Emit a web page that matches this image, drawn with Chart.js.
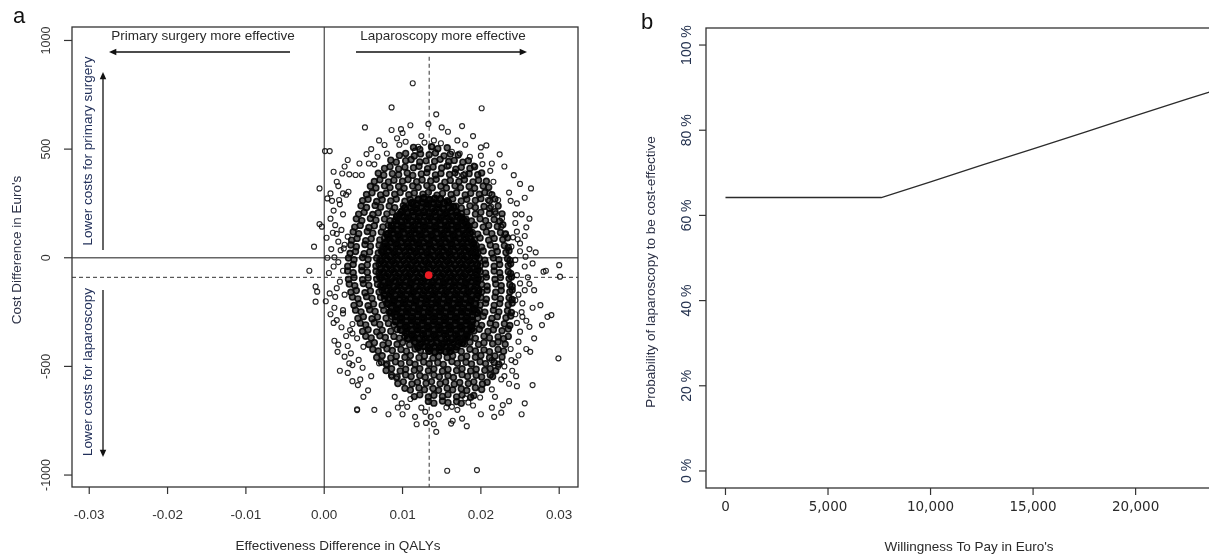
<!DOCTYPE html>
<html>
<head>
<meta charset="utf-8">
<script src="https://cdn.jsdelivr.net/npm/chart.js@4.4.1/dist/chart.umd.min.js"></script>
<style>
  html, body { margin: 0; padding: 0; background: #fff; overflow: hidden; }
  #wrap { position: relative; width: 1209px; height: 555px; overflow: hidden; }
  #planeCanvas { position: absolute; left: 0; top: 0; }
  #ceacCanvas { position: absolute; left: 604px; top: 0; }
</style>
</head>
<body>
<div id="wrap">
  <canvas id="planeCanvas" width="604" height="555"></canvas>
  <canvas id="ceacCanvas" width="640" height="555"></canvas>
</div>
<script>
// bootstrap draws: [effect difference x 1e-4 QALY, cost difference in euro]
const coreDraws = [
  [120,268],[127,274],[134,266],[141,272],[148,270],
  [112,252],[118,246],[125,255],[132,249],[139,253],[146,247],[153,251],[158,256],
  [103,228],[110,234],[117,226],[124,231],[131,235],[138,227],[145,232],[152,225],[159,230],[165,234],
  [99,212],[106,206],[113,214],[120,208],[127,211],[134,205],[141,213],[148,209],[155,206],[162,214],[169,210],
  [93,188],[100,194],[107,186],[114,192],[121,189],[128,195],[135,187],[142,191],[149,185],[156,193],[163,188],[170,194],[175,186],
  [91,172],[98,166],[105,174],[112,168],[119,171],[126,165],[133,173],[140,169],[147,175],[154,167],[161,172],[168,166],[175,174],[179,169],
  [86,148],[93,154],[100,146],[107,152],[114,149],[121,155],[128,147],[135,151],[142,145],[149,153],[156,148],[163,154],[170,146],[177,152],[182,149],
  [86,132],[93,126],[100,134],[107,128],[114,131],[121,125],[128,133],[135,129],[142,135],[149,127],[156,132],[163,126],[170,134],[177,128],[184,131],
  [81,108],[88,114],[95,106],[102,112],[109,109],[116,115],[123,107],[130,111],[137,105],[144,113],[151,108],[158,114],[165,106],[172,112],[179,109],[186,115],
  [82,92],[89,86],[96,94],[103,88],[110,91],[117,85],[124,93],[131,89],[138,95],[145,87],[152,92],[159,86],[166,94],[173,88],[180,91],[187,85],
  [78,68],[85,74],[92,66],[99,72],[106,69],[113,75],[120,67],[127,71],[134,65],[141,73],[148,68],[155,74],[162,66],[169,72],[176,69],[183,75],[190,67],
  [79,52],[86,46],[93,54],[100,48],[107,51],[114,45],[121,53],[128,49],[135,55],[142,47],[149,52],[156,46],[163,54],[170,48],[177,51],[184,45],[191,53],
  [75,28],[82,34],[89,26],[96,32],[103,29],[110,35],[117,27],[124,31],[131,25],[138,33],[145,28],[152,34],[159,26],[166,32],[173,29],[180,35],[187,27],[193,31],
  [77,12],[84,6],[91,14],[98,8],[105,11],[112,5],[119,13],[126,9],[133,15],[140,7],[147,12],[154,6],[161,14],[168,8],[175,11],[182,5],[189,13],[194,9],
  [73,-12],[80,-6],[87,-14],[94,-8],[101,-11],[108,-5],[115,-13],[122,-9],[129,-15],[136,-7],[143,-12],[150,-6],[157,-14],[164,-8],[171,-11],[178,-5],[185,-13],[192,-9],
  [76,-28],[83,-34],[90,-26],[97,-32],[104,-29],[111,-35],[118,-27],[125,-31],[132,-25],[139,-33],[146,-28],[153,-34],[160,-26],[167,-32],[174,-29],[181,-35],[188,-27],[195,-31],
  [72,-52],[79,-46],[86,-54],[93,-48],[100,-51],[107,-45],[114,-53],[121,-49],[128,-55],[135,-47],[142,-52],[149,-46],[156,-54],[163,-48],[170,-51],[177,-45],[184,-53],[191,-49],[196,-55],
  [75,-68],[82,-74],[89,-66],[96,-72],[103,-69],[110,-75],[117,-67],[124,-71],[131,-65],[138,-73],[145,-68],[152,-74],[159,-66],[166,-72],[173,-69],[180,-75],[187,-67],[194,-71],
  [72,-92],[79,-86],[86,-94],[93,-88],[100,-91],[107,-85],[114,-93],[121,-89],[128,-95],[135,-87],[142,-92],[149,-86],[156,-94],[163,-88],[170,-91],[177,-85],[184,-93],[191,-89],[196,-95],
  [76,-108],[83,-114],[90,-106],[97,-112],[104,-109],[111,-115],[118,-107],[125,-111],[132,-105],[139,-113],[146,-108],[153,-114],[160,-106],[167,-112],[174,-109],[181,-115],[188,-107],[195,-111],
  [75,-132],[82,-126],[89,-134],[96,-128],[103,-131],[110,-125],[117,-133],[124,-129],[131,-135],[138,-127],[145,-132],[152,-126],[159,-134],[166,-128],[173,-131],[180,-125],[187,-133],[194,-129],
  [79,-148],[86,-154],[93,-146],[100,-152],[107,-149],[114,-155],[121,-147],[128,-151],[135,-145],[142,-153],[149,-148],[156,-154],[163,-146],[170,-152],[177,-149],[184,-155],[191,-147],[197,-151],
  [77,-172],[84,-166],[91,-174],[98,-168],[105,-171],[112,-165],[119,-173],[126,-169],[133,-175],[140,-167],[147,-172],[154,-166],[161,-174],[168,-168],[175,-171],[182,-165],[189,-173],[196,-169],
  [82,-188],[89,-194],[96,-186],[103,-192],[110,-189],[117,-195],[124,-187],[131,-191],[138,-185],[145,-193],[152,-188],[159,-194],[166,-186],[173,-192],[180,-189],[187,-195],[194,-187],
  [81,-212],[88,-206],[95,-214],[102,-208],[109,-211],[116,-205],[123,-213],[130,-209],[137,-215],[144,-207],[151,-212],[158,-206],[165,-214],[172,-208],[179,-211],[186,-205],[193,-213],
  [86,-228],[93,-234],[100,-226],[107,-232],[114,-229],[121,-235],[128,-227],[135,-231],[142,-225],[149,-233],[156,-228],[163,-234],[170,-226],[177,-232],[184,-229],[191,-235],
  [85,-252],[92,-246],[99,-254],[106,-248],[113,-251],[120,-245],[127,-253],[134,-249],[141,-255],[148,-247],[155,-252],[162,-246],[169,-254],[176,-248],[183,-251],[190,-245],[195,-253],
  [91,-268],[98,-274],[105,-266],[112,-272],[119,-269],[126,-275],[133,-267],[140,-271],[147,-265],[154,-273],[161,-268],[168,-274],[175,-266],[182,-272],[189,-269],
  [91,-292],[98,-286],[105,-294],[112,-288],[119,-291],[126,-285],[133,-293],[140,-289],[147,-295],[154,-287],[161,-292],[168,-286],[175,-294],[182,-288],[189,-291],
  [97,-308],[104,-314],[111,-306],[118,-312],[125,-309],[132,-315],[139,-307],[146,-311],[153,-305],[160,-313],[167,-308],[174,-314],[181,-306],[188,-312],
  [98,-332],[105,-326],[112,-334],[119,-328],[126,-331],[133,-325],[140,-333],[147,-329],[154,-335],[161,-327],[168,-332],[175,-326],[182,-334],[188,-328],
  [105,-348],[112,-354],[119,-346],[126,-352],[133,-349],[140,-355],[147,-347],[154,-351],[161,-345],[168,-353],[175,-348],[182,-354],
  [107,-372],[114,-366],[121,-374],[128,-368],[135,-371],[142,-365],[149,-373],[156,-369],[163,-375],[170,-367],[177,-372],[181,-366],
  [116,-388],[123,-394],[130,-386],[137,-392],[144,-389],[151,-395],[158,-387],[165,-391],[172,-385],[176,-393],
  [120,-412],[127,-406],[134,-414],[141,-408],[148,-411],[155,-405],[162,-413],[169,-409],
  [134,-428],[141,-434],[148,-426],[155,-432],[161,-429]
];
const ringDraws = [
  [114,508],[122,499],[137,511],[145,502],[157,506],
  [96,471],[104,480],[115,468],[123,478],[134,474],[142,482],[153,469],[161,477],[171,473],
  [85,449],[92,440],[104,447],[111,452],[122,441],[130,446],[141,444],[148,453],[159,443],[166,448],[177,440],[184,447],
  [77,411],[84,419],[95,409],[103,417],[114,414],[121,421],[132,410],[139,418],[150,413],[157,422],[168,408],[175,416],[186,411],[192,419],
  [69,389],[76,380],[87,387],[95,382],[106,390],[113,379],[124,386],[131,392],[142,381],[149,388],[160,383],[167,391],[178,380],[185,387],[196,382],[201,390],
  [64,351],[71,359],[82,349],[89,357],[100,352],[107,360],[118,350],[125,358],[136,353],[143,361],[154,348],[161,356],[172,351],[179,359],[190,349],[197,357],[207,352],
  [59,329],[66,321],[77,331],[84,323],[95,328],[102,320],[113,330],[120,324],[131,332],[138,322],[149,329],[156,321],[167,331],[174,323],[185,328],[192,320],[203,330],[210,324],
  [54,291],[61,299],[72,289],[79,297],[90,292],[97,300],[108,290],[115,298],[126,293],[133,301],[144,288],[151,296],[162,291],[169,299],[180,289],[187,297],[198,292],[205,300],[214,290],
  [49,263],[56,269],[67,259],[74,267],[85,262],[92,270],[103,260],[110,268],[157,263],[164,271],[175,261],[182,269],[193,264],[200,272],[211,262],[218,270],
  [47,239],[54,231],[65,241],[72,233],[83,238],[90,230],[101,240],[168,237],[175,229],[186,239],[193,231],[204,236],[211,228],[222,238],
  [44,201],[51,209],[62,199],[69,207],[80,202],[87,210],[96,200],[175,203],[182,211],[193,201],[200,209],[211,204],[218,212],[227,202],
  [41,179],[48,171],[59,181],[66,173],[77,178],[84,170],[181,177],[188,169],[199,179],[206,171],[217,176],[224,168],
  [39,141],[46,149],[57,139],[64,147],[75,142],[82,150],[185,143],[192,151],[203,141],[210,149],[221,144],[228,152],
  [37,119],[44,111],[55,121],[62,113],[73,118],[79,110],[189,117],[196,109],[207,119],[214,111],[225,116],[231,108],
  [35,81],[42,89],[53,79],[60,87],[71,82],[77,90],[192,83],[199,91],[210,81],[217,89],[228,84],[234,92],
  [34,59],[41,51],[52,61],[59,53],[70,58],[75,50],[194,57],[201,49],[212,59],[219,51],[230,56],[235,48],
  [33,21],[40,29],[51,19],[58,27],[69,22],[73,30],[196,23],[203,31],[214,21],[221,29],[232,24],[236,32],
  [31,-1],[38,-9],[49,1],[56,-7],[67,-2],[71,-10],[198,-3],[205,-11],[216,-1],[223,-9],[234,-4],[237,-12],
  [30,-39],[37,-31],[48,-41],[55,-33],[66,-38],[70,-30],[199,-37],[206,-29],[217,-39],[224,-31],[235,-36],[238,-28],
  [30,-61],[37,-69],[48,-59],[55,-67],[66,-62],[70,-70],[199,-63],[206,-71],[217,-61],[224,-69],[235,-64],[238,-72],
  [31,-99],[38,-91],[49,-101],[56,-93],[67,-98],[71,-90],[200,-97],[207,-89],[218,-99],[225,-91],[236,-96],[239,-88],
  [32,-121],[39,-129],[50,-119],[57,-127],[68,-122],[72,-130],[201,-123],[208,-131],[219,-121],[226,-129],[237,-124],[240,-132],
  [34,-159],[41,-151],[52,-161],[59,-153],[70,-158],[74,-150],[201,-157],[208,-149],[219,-159],[226,-151],[237,-156],[240,-148],
  [36,-181],[43,-189],[54,-179],[61,-187],[72,-182],[77,-190],[200,-183],[207,-191],[218,-181],[225,-189],[236,-184],[240,-192],
  [38,-219],[45,-211],[56,-221],[63,-213],[74,-218],[80,-210],[199,-217],[206,-209],[217,-219],[224,-211],[235,-216],[240,-208],
  [40,-241],[47,-249],[58,-239],[65,-247],[76,-242],[83,-250],[198,-243],[205,-251],[216,-241],[223,-249],[234,-244],[239,-252],
  [43,-279],[50,-271],[61,-281],[68,-273],[79,-278],[86,-270],[196,-277],[203,-269],[214,-279],[221,-271],[232,-276],[238,-268],
  [46,-301],[53,-309],[64,-299],[71,-307],[82,-302],[89,-310],[194,-303],[201,-311],[212,-301],[219,-309],[230,-304],[237,-312],
  [49,-339],[56,-331],[67,-341],[74,-333],[85,-338],[93,-330],[191,-337],[198,-329],[209,-339],[216,-331],[227,-336],[235,-328],
  [53,-361],[60,-369],[71,-359],[78,-367],[89,-362],[96,-370],[103,-360],[186,-363],[193,-371],[204,-361],[211,-369],[222,-364],[229,-372],[235,-362],
  [57,-399],[64,-391],[75,-401],[82,-393],[93,-398],[100,-390],[109,-400],[179,-397],[186,-389],[197,-399],[204,-391],[215,-396],[222,-388],[231,-398],
  [62,-421],[69,-429],[80,-419],[87,-427],[98,-422],[105,-430],[116,-420],[123,-428],[168,-423],[175,-431],[186,-421],[193,-429],[204,-424],[211,-432],[222,-422],[229,-430],
  [67,-459],[74,-451],[85,-461],[92,-453],[103,-458],[110,-450],[121,-460],[128,-452],[139,-462],[146,-454],[157,-459],[164,-451],[175,-461],[182,-453],[193,-458],[200,-450],[211,-460],[218,-452],[227,-457],
  [73,-481],[80,-489],[91,-479],[98,-487],[109,-482],[116,-490],[127,-480],[134,-488],[145,-483],[152,-491],[163,-478],[170,-486],[181,-481],[188,-489],[199,-479],[206,-487],[217,-482],[223,-490],
  [79,-519],[86,-511],[97,-521],[104,-513],[115,-518],[122,-510],[133,-520],[140,-512],[151,-522],[158,-514],[169,-519],[176,-511],[187,-521],[194,-513],[205,-518],[212,-510],[219,-520],
  [86,-541],[93,-549],[104,-539],[111,-547],[122,-542],[129,-550],[140,-540],[147,-548],[158,-543],[165,-551],[176,-538],[183,-546],[194,-541],[201,-549],[212,-539],[215,-547],
  [94,-579],[101,-571],[112,-581],[119,-573],[130,-578],[137,-570],[148,-580],[155,-572],[166,-582],[173,-574],[184,-579],[191,-571],[202,-581],[208,-573],
  [103,-601],[110,-609],[121,-599],[128,-607],[139,-602],[146,-610],[157,-600],[164,-608],[175,-603],[182,-611],[193,-598],[201,-606],
  [115,-639],[122,-631],[133,-641],[140,-633],[151,-638],[158,-630],[169,-640],[176,-632],[187,-642],[191,-634],
  [133,-661],[140,-669],[151,-659],[158,-667],[169,-662],[175,-670]
];
const tailDraws = [
  [113,803],[86,692],[201,688],[143,660],[133,616],[176,606],[86,588],[98,592],[93,550],[104,534],
  [77,519],[128,530],[138,511],[149,527],[200,508],[207,517],[1,491],[7,491],[54,477],[68,465],
  [116,493],[120,511],[163,488],[173,480],[186,465],[224,476],[214,434],[202,431],[191,424],[180,388],
  [170,381],[159,424],[12,396],[23,388],[32,384],[40,381],[48,381],[45,434],[57,434],[-6,319],
  [8,296],[16,350],[24,296],[31,304],[19,266],[12,217],[4,273],[216,350],[211,296],[209,266],
  [222,266],[213,235],[219,204],[227,181],[226,143],[232,112],[241,94],[247,85],[250,66],[239,51],
  [264,319],[270,25],[257,5],[266,-26],[283,-60],[300,-34],[301,-87],[-13,51],[-6,155],[-3,143],
  [-19,-60],[11,115],[18,74],[25,43],[4,0],[13,2],[21,35],[30,97],[33,20],
  [-11,-133],[-9,-156],[-11,-202],[7,-164],[13,-230],[16,-287],[13,-382],[17,-433],[30,-406],[24,-241],
  [24,-256],[33,-333],[36,-305],[36,-348],[42,-371],[50,-410],[32,-486],[36,-494],[49,-506],[36,-568],
  [43,-586],[42,-701],[42,-697],[70,-486],[79,-494],[86,-548],[92,-555],[94,-689],[99,-670],[106,-686],
  [116,-732],[118,-766],[129,-709],[136,-732],[140,-766],[143,-801],[156,-689],[163,-686],[164,-750],[162,-763],
  [182,-775],[180,-647],[184,-666],[157,-980],[195,-977],[199,-643],[214,-606],[217,-732],[226,-713],[228,-678],
  [230,-545],[245,-545],[246,-591],[256,-670],[252,-720],[266,-586],[299,-463],[290,-264],[285,-272],[276,-218],
  [278,-310],[263,-433],[268,-371],[253,-272],[253,-210],[244,-195],[239,-471],[222,-502],[227,-479],[214,-471],
  [248,-386],[262,-318],[268,-149],[256,-149],[250,-118],[280,-64],
  [20,246],[8,180],[14,150],[3,92],[22,128],[9,40],[18,-20],[6,-70],[20,-110],[2,-200],
  [14,-180],[22,-320],[8,-260],[26,-455],[20,-520],[50,-640],[64,-700],[82,-720],[60,-545],
  [246,250],[252,200],[244,160],[258,140],[250,30],[260,-90],[252,-250],[246,-300],[258,-420],[240,-520],
  [236,-580],[218,-640],[200,-720],[236,-660],
  [60,500],[70,540],[170,540],[190,560],[230,420],[30,450],[158,580],[110,610],[52,600],
  [26,420],[18,330],[28,290],[10,262],[24,200],[16,110],[26,60],[12,-40],[24,-60],[16,-140],
  [26,-170],[12,-300],[28,-360],[18,-400],[34,-440],[44,-470],[30,-530],[46,-560],[56,-610],
  [242,380],[250,340],[236,300],[256,276],[238,262],[244,200],[262,180],[246,120],[256,100],[262,40],
  [244,-10],[256,-40],[246,-80],[262,-120],[248,-170],[266,-230],[244,-260],[258,-290],[250,-340],[238,-420],
  [248,-450],[230,-500],[244,-480],[226,-560],[214,-690],
  [80,480],[96,520],[124,560],[140,540],[180,520],[100,574],[150,600],[64,430],[200,470],[212,400],
  [110,-650],[124,-690],[170,-700],[190,-680],[146,-720],[100,-720],[130,-760],[176,-740],[90,-640]
];
const meanDraw = [0.01334, -80];
const meanEffectLine = 0.0134;
const meanCostLine = -90;
const qalyTicks = [-0.03, -0.02, -0.01, 0, 0.01, 0.02, 0.03];
const qalyTickLabels = ["-0.03", "-0.02", "-0.01", "0.00", "0.01", "0.02", "0.03"];
const costTicks = [-1000, -500, 0, 500, 1000];

// acceptability curve
const wtpValues = [0, 2500, 5000, 7600, 10000, 12500, 15000, 17500, 20000, 22500, 23750];
const probCostEffective = [64.2, 64.2, 64.2, 64.2, 67.9, 71.8, 75.6, 79.5, 83.4, 87.3, 89.2];
const wtpTicks = [0, 5000, 10000, 15000, 20000];
const wtpTickLabels = ["0", "5,000", "10,000", "15,000", "20,000"];
const probTicks = [0, 20, 40, 60, 80, 100];

const SANS = '"Liberation Sans", Arial, sans-serif';

function vtext(ctx, s, x, y) {
  ctx.save();
  ctx.translate(x, y);
  ctx.rotate(-Math.PI / 2);
  ctx.textAlign = "center";
  ctx.textBaseline = "middle";
  ctx.fillText(s, 0, 0);
  ctx.restore();
}

function arrow(ctx, x0, y0, x1, y1) {
  const a = Math.atan2(y1 - y0, x1 - x0);
  const len = 8, sp = 0.42;
  ctx.beginPath();
  ctx.moveTo(x0, y0);
  ctx.lineTo(x1 - Math.cos(a) * 4, y1 - Math.sin(a) * 4);
  ctx.stroke();
  ctx.beginPath();
  ctx.moveTo(x1, y1);
  ctx.lineTo(x1 - len * Math.cos(a - sp), y1 - len * Math.sin(a - sp));
  ctx.lineTo(x1 - len * Math.cos(a + sp), y1 - len * Math.sin(a + sp));
  ctx.closePath();
  ctx.fill();
}

const planeLines = {
  id: "planeLines",
  beforeDatasetsDraw(chart) {
    const { ctx, chartArea: ca, scales: { x, y } } = chart;
    ctx.save();
    ctx.lineWidth = 1.4;
    ctx.strokeStyle = "#666";
    const y0 = y.getPixelForValue(0);
    ctx.beginPath(); ctx.moveTo(ca.left, y0); ctx.lineTo(ca.right, y0); ctx.stroke();
    ctx.lineWidth = 1;
    ctx.strokeStyle = "#222";
    const x0 = x.getPixelForValue(0);
    ctx.beginPath(); ctx.moveTo(x0, ca.top); ctx.lineTo(x0, ca.bottom); ctx.stroke();
    ctx.setLineDash([4, 3]);
    ctx.strokeStyle = "#333";
    const ym = y.getPixelForValue(meanCostLine);
    ctx.beginPath(); ctx.moveTo(ca.left, ym); ctx.lineTo(ca.right, ym); ctx.stroke();
    const xm = x.getPixelForValue(meanEffectLine);
    ctx.beginPath(); ctx.moveTo(xm, y.getPixelForValue(925)); ctx.lineTo(xm, ca.bottom); ctx.stroke();
    ctx.restore();
  },
  afterDraw(chart) {
    const { ctx, chartArea: ca, scales: { x, y } } = chart;
    ctx.save();
    ctx.strokeStyle = "#333";
    ctx.lineWidth = 1.3;
    ctx.strokeRect(ca.left, ca.top, ca.right - ca.left, ca.bottom - ca.top);
    ctx.fillStyle = "#333";
    ctx.lineWidth = 1.2;
    ctx.font = "12.5px " + SANS;
    costTicks.forEach(v => {
      const py = y.getPixelForValue(v);
      ctx.beginPath(); ctx.moveTo(ca.left - 8, py); ctx.lineTo(ca.left, py); ctx.stroke();
      vtext(ctx, String(v), 47, py);
    });
    ctx.font = "13.5px " + SANS;
    ctx.textAlign = "center";
    ctx.textBaseline = "middle";
    qalyTicks.forEach((v, i) => {
      const px = x.getPixelForValue(v);
      ctx.beginPath(); ctx.moveTo(px, ca.bottom); ctx.lineTo(px, ca.bottom + 7); ctx.stroke();
      ctx.fillText(qalyTickLabels[i], px, 515);
    });
    ctx.fillStyle = "#2a2a2a";
    ctx.fillText("Effectiveness Difference in QALYs", 338, 546);
    ctx.fillText("Primary surgery more effective", 203, 36);
    ctx.fillText("Laparoscopy more effective", 443, 36);
    ctx.fillStyle = "#2b3045";
    vtext(ctx, "Cost Difference in Euro's", 17, 250);
    ctx.fillStyle = "#22305a";
    vtext(ctx, "Lower costs for primary surgery", 88, 151);
    vtext(ctx, "Lower costs for laparoscopy", 88, 372);
    ctx.fillStyle = "#111";
    ctx.strokeStyle = "#111";
    ctx.lineWidth = 1.3;
    arrow(ctx, 290, 52, 109, 52);
    arrow(ctx, 356, 52, 527, 52);
    arrow(ctx, 103, 250, 103, 72);
    arrow(ctx, 103, 290, 103, 457);
    ctx.font = "22px " + SANS;
    ctx.fillStyle = "#111";
    ctx.fillText("a", 19, 17);
    ctx.restore();
  }
};

const toPoint = d => ({ x: d[0] / 10000, y: d[1] });

new Chart(document.getElementById("planeCanvas"), {
  type: "scatter",
  data: {
    datasets: [
      {
        data: [{ x: meanDraw[0], y: meanDraw[1] }],
        pointRadius: 3.8,
        pointBackgroundColor: "#ec1c24",
        pointBorderColor: "#ec1c24",
        pointBorderWidth: 0
      },
      {
        // the densest part of the cloud, where thousands of rings overlap into black
        data: coreDraws.map(toPoint),
        pointRadius: 3.1,
        pointBorderWidth: 2.2,
        pointBorderColor: "#030303",
        pointBackgroundColor: "rgba(0,0,0,0.85)"
      },
      {
        data: ringDraws.map(toPoint),
        pointRadius: 2.9,
        pointBorderWidth: 1.6,
        pointBorderColor: "rgba(8,8,8,0.92)",
        pointBackgroundColor: "rgba(0,0,0,0.6)"
      },
      {
        data: tailDraws.map(toPoint),
        pointRadius: 2.5,
        pointBorderWidth: 1.15,
        pointBorderColor: "rgba(15,15,15,0.9)",
        pointBackgroundColor: "rgba(0,0,0,0)"
      }
    ]
  },
  options: {
    responsive: false,
    devicePixelRatio: 1,
    animation: false,
    events: [],
    layout: { padding: { left: 72, top: 27, right: 26, bottom: 68 } },
    plugins: { legend: { display: false }, tooltip: { enabled: false } },
    scales: {
      x: { type: "linear", display: false, min: -0.0322, max: 0.0324 },
      y: { type: "linear", display: false, min: -1055, max: 1062 }
    }
  },
  plugins: [planeLines]
});

const ceacFrame = {
  id: "ceacFrame",
  afterDraw(chart) {
    const { ctx, chartArea: ca, scales: { x, y } } = chart;
    ctx.save();
    ctx.strokeStyle = "#333";
    ctx.lineWidth = 1.3;
    ctx.strokeRect(ca.left, ca.top, ca.right - ca.left, ca.bottom - ca.top);
    ctx.lineWidth = 1.2;
    ctx.fillStyle = "#24324f";
    ctx.font = "14px " + SANS;
    probTicks.forEach(v => {
      const py = y.getPixelForValue(v);
      ctx.beginPath(); ctx.moveTo(ca.left - 7, py); ctx.lineTo(ca.left, py); ctx.stroke();
      vtext(ctx, v + " %", 83, py);
    });
    ctx.fillStyle = "#2a2a2a";
    ctx.font = '13.5px "DejaVu Sans", sans-serif';
    ctx.textAlign = "center";
    ctx.textBaseline = "middle";
    wtpTicks.forEach((v, i) => {
      const px = x.getPixelForValue(v);
      ctx.beginPath(); ctx.moveTo(px, ca.bottom); ctx.lineTo(px, ca.bottom + 7); ctx.stroke();
      ctx.fillText(wtpTickLabels[i], px, 507);
    });
    ctx.font = "13.5px " + SANS;
    ctx.fillText("Willingness To Pay in Euro's", (ca.left + ca.right) / 2, 547);
    ctx.fillStyle = "#2b3045";
    vtext(ctx, "Probability of laparoscopy to be cost-effective", 47, 272);
    ctx.fillStyle = "#111";
    ctx.font = "22px " + SANS;
    ctx.fillText("b", 43, 23);
    ctx.restore();
  }
};

new Chart(document.getElementById("ceacCanvas"), {
  type: "line",
  data: {
    datasets: [{
      data: wtpValues.map((w, i) => ({ x: w, y: probCostEffective[i] })),
      borderColor: "#2b2b2b",
      borderWidth: 1.3,
      pointRadius: 0,
      tension: 0,
      fill: false
    }]
  },
  options: {
    responsive: false,
    devicePixelRatio: 1,
    animation: false,
    events: [],
    layout: { padding: { left: 102, top: 28, right: 12, bottom: 67 } },
    plugins: { legend: { display: false }, tooltip: { enabled: false } },
    scales: {
      x: { type: "linear", display: false, min: -950, max: 24700 },
      y: { type: "linear", display: false, min: -4, max: 104 }
    }
  },
  plugins: [ceacFrame]
});
</script>
</body>
</html>
